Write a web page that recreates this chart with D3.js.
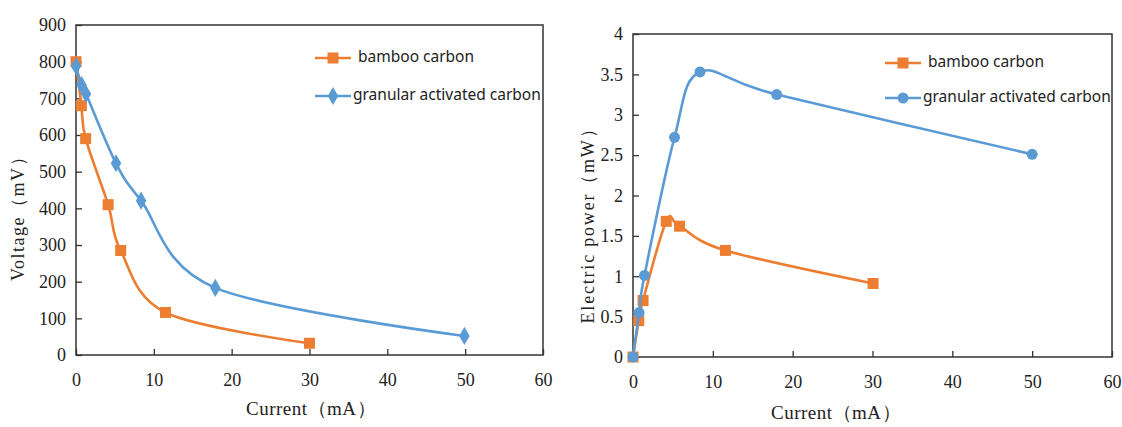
<!DOCTYPE html>
<html>
<head>
<meta charset="utf-8">
<script src="https://cdn.jsdelivr.net/npm/d3@7"></script>
<style>
  html, body { margin: 0; padding: 0; background: #fff; }
  svg { display: block; }
</style>
</head>
<body>
<svg id="chart" width="1122" height="427"></svg>
<script>
// Polarisation data: voltage vs current
const currentBambooV = [0, 0.69, 1.24, 4.13, 5.74, 11.5, 30];
const voltageBamboo  = [800, 680, 590, 410, 285, 116, 32];
const currentGacV    = [0, 0.69, 1.29, 5.14, 8.36, 17.9, 49.9];
const voltageGac     = [788, 737, 712, 523, 421, 183, 52];

// Power data: power vs current
const currentBambooP = [0, 0.72, 1.26, 4.17, 5.83, 11.58, 30.07];
const powerBamboo    = [0, 0.45, 0.70, 1.68, 1.62, 1.32, 0.91];
const currentGacP    = [0, 0.76, 1.44, 5.2, 8.39, 18.0, 50.0];
const powerGac       = [0, 0.55, 1.01, 2.72, 3.53, 3.25, 2.51];

const seriesNames = ["bamboo carbon", "granular activated carbon"];
const xTicks = [0, 10, 20, 30, 40, 50, 60];
const voltageTicks = [0, 100, 200, 300, 400, 500, 600, 700, 800, 900];
const powerTicks = [0, 0.5, 1, 1.5, 2, 2.5, 3, 3.5, 4];

const ORANGE = "#ED7D31";
const BLUE = "#5B9BD5";
const SERIF = '"Liberation Serif", "DejaVu Serif", serif';
const SANS = '"Noto Sans", "DejaVu Sans", sans-serif';

const svg = d3.select("#chart");

function zip(xs, ys) { return xs.map((x, i) => ({ x, y: ys[i] })); }

function styleTickText(sel) {
  sel.selectAll(".tick text")
    .style("font-family", SERIF)
    .style("font-size", "18px")
    .style("fill", "#222");
}

function drawPanel(cfg) {
  const { left, right, top, bottom, yMax, yTicks, yTitle, yTitleX, yTitleY, yTitleSpacing,
          xTitleX, xTitleY, series, marker2, legendX, legendY, legendGap } = cfg;
  const g = svg.append("g");
  const x = d3.scaleLinear().domain([0, 60]).range([left, right]);
  const y = d3.scaleLinear().domain([0, yMax]).range([bottom, top]);

  // plot frame
  g.append("rect")
    .attr("x", left).attr("y", top)
    .attr("width", right - left).attr("height", bottom - top)
    .attr("fill", "none").attr("stroke", "#333").attr("stroke-width", 1.5);

  // x axis: ticks point inward, labels below
  const xAxis = d3.axisBottom(x).tickValues(xTicks).tickSizeInner(-6).tickSizeOuter(0).tickPadding(18);
  const xa = g.append("g").attr("transform", `translate(0,${bottom})`).call(xAxis);
  xa.select(".domain").remove();
  xa.selectAll(".tick line").attr("stroke", "#333").attr("stroke-width", 1.3);
  styleTickText(xa);

  // y axis: ticks point inward, labels left
  const yAxis = d3.axisLeft(y).tickValues(yTicks).tickFormat(d => String(d)).tickSizeInner(-6).tickSizeOuter(0).tickPadding(10);
  const ya = g.append("g").attr("transform", `translate(${left},0)`).call(yAxis);
  ya.select(".domain").remove();
  ya.selectAll(".tick line").attr("stroke", "#333").attr("stroke-width", 1.3);
  styleTickText(ya);

  // axis titles
  g.append("text")
    .attr("x", xTitleX).attr("y", xTitleY).attr("text-anchor", "middle")
    .attr("dominant-baseline", "middle")
    .style("font-family", SERIF).style("font-size", "19px").style("fill", "#222")
    .style("letter-spacing", "0.5px")
    .text("Current（mA）");
  g.append("text")
    .attr("transform", `translate(${yTitleX},${yTitleY}) rotate(-90)`)
    .attr("text-anchor", "middle").attr("dominant-baseline", "middle")
    .style("font-family", SERIF).style("font-size", "18px").style("fill", "#222")
    .style("letter-spacing", yTitleSpacing)
    .text(yTitle);

  const line = d3.line().x(d => x(d.x)).y(d => y(d.y)).curve(d3.curveCardinal.tension(0));

  series.forEach((s, i) => {
    g.append("path").datum(s.data)
      .attr("d", line).attr("fill", "none")
      .attr("stroke", s.color).attr("stroke-width", 2.6);
    drawMarkers(g, s.data.map(d => [x(d.x), y(d.y)]), i === 0 ? "square" : marker2, s.color);
  });

  // legend
  series.forEach((s, i) => {
    const ly = legendY + i * legendGap;
    g.append("line")
      .attr("x1", legendX).attr("x2", legendX + 36)
      .attr("y1", ly).attr("y2", ly)
      .attr("stroke", s.color).attr("stroke-width", 2.6);
    drawMarkers(g, [[legendX + 18, ly]], i === 0 ? "square" : marker2, s.color);
    g.append("text")
      .attr("x", legendX + (i === 0 ? 43 : 38)).attr("y", ly)
      .attr("dominant-baseline", "middle")
      .style("font-family", SANS).style("font-size", "15.5px").style("fill", "#222")
      .text(s.name);
  });
}

function drawMarkers(g, pts, kind, color) {
  const sym = kind === "square" ? d3.symbolSquare : kind === "diamond" ? d3.symbolDiamond : d3.symbolCircle;
  const size = kind === "square" ? 121 : 95;
  g.selectAll(null).data(pts).enter().append("path")
    .attr("d", d3.symbol().type(sym).size(size))
    .attr("transform", d => `translate(${d[0]},${d[1]})`)
    .attr("fill", color);
}

drawPanel({
  left: 76, right: 543, top: 25, bottom: 355,
  yMax: 900, yTicks: voltageTicks,
  yTitle: "Voltage（mV）", yTitleX: 20, yTitleY: 214, yTitleSpacing: "1.5px",
  xTitleX: 311, xTitleY: 411,
  marker2: "diamond",
  legendX: 315, legendY: 58, legendGap: 38,
  series: [
    { name: seriesNames[0], color: ORANGE, data: zip(currentBambooV, voltageBamboo) },
    { name: seriesNames[1], color: BLUE, data: zip(currentGacV, voltageGac) }
  ]
});

drawPanel({
  left: 633, right: 1112, top: 34, bottom: 357,
  yMax: 4, yTicks: powerTicks,
  yTitle: "Electric power（mW）", yTitleX: 590, yTitleY: 221, yTitleSpacing: "1.8px",
  xTitleX: 836, xTitleY: 415,
  marker2: "circle",
  legendX: 885, legendY: 63, legendGap: 35,
  series: [
    { name: seriesNames[0], color: ORANGE, data: zip(currentBambooP, powerBamboo) },
    { name: seriesNames[1], color: BLUE, data: zip(currentGacP, powerGac) }
  ]
});
</script>
</body>
</html>
